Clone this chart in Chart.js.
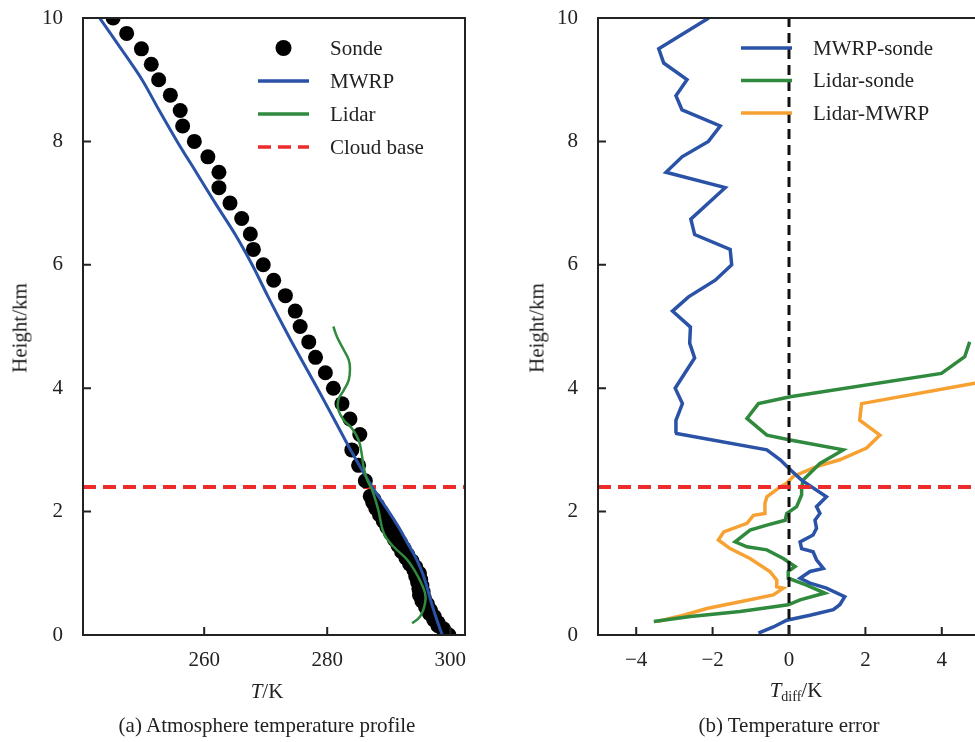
<!DOCTYPE html>
<html>
<head>
<meta charset="utf-8">
<script src="https://cdn.jsdelivr.net/npm/chart.js@4.4.1/dist/chart.umd.min.js"></script>
<style>
html, body { margin:0; padding:0; background:#fff; overflow:hidden; }
#wrap { position:relative; width:975px; height:742px; overflow:hidden; font-family:"Liberation Serif","Times New Roman",serif; color:#222; }
canvas { position:absolute; top:0; }
#cvA { left:0; }
#cvB { left:490px; }
.lbl { position:absolute; font-size:21px; white-space:nowrap; transform:translate(-50%,-50%); }
.rot { transform:translate(-50%,-50%) rotate(-90deg); }
sub { font-size:14px; vertical-align:-4px; }
</style>
</head>
<body>
<div id="wrap">
  <canvas id="cvA" width="490" height="680"></canvas>
  <canvas id="cvB" width="510" height="680"></canvas>
  <div class="lbl rot" style="left:20px;top:328px;">Height/km</div>
  <div class="lbl rot" style="left:537px;top:328px;">Height/km</div>
  <div class="lbl" style="left:267px;top:691px;"><i>T</i>/K</div>
  <div class="lbl" style="left:796px;top:691px;"><i>T</i><sub>diff</sub>/K</div>
  <div class="lbl" style="left:267px;top:725px;">(a) Atmosphere temperature profile</div>
  <div class="lbl" style="left:789px;top:725px;">(b) Temperature error</div>
</div>
<script>
/* axis ticks */
const heightTicks = [0, 2, 4, 6, 8, 10];
const tempTicks = [260, 280, 300];
const diffTicks = [-4, -2, 0, 2, 4];
const cloudBase = 2.4;

/* (a) sonde */
const sondeH = [0.00,0.05,0.10,0.15,0.20,0.25,0.30,0.35,0.40,0.45,0.50,0.55,0.60,0.65,0.70,0.75,0.80,0.85,0.90,0.95,
                1.00,1.05,1.10,1.15,1.20,1.25,1.30,1.35,1.40,1.45,1.50,1.55,1.60,1.65,1.70,1.75,1.80,1.85,1.90,1.95,
                2.00,2.05,2.10,2.15,2.20,
                2.25,2.50,2.75,3.00,3.25,3.50,3.75,4.00,4.25,4.50,4.75,5.00,5.25,5.50,5.75,6.00,6.25,6.50,6.75,
                7.00,7.25,7.50,7.75,8.00,8.25,8.50,8.75,9.00,9.25,9.50,9.75,10.00];
const sondeT = [299.8,299.0,298.9,298.0,298.0,297.3,297.4,296.6,296.8,296.0,296.3,295.4,295.8,295.0,295.6,294.9,295.4,294.7,295.2,294.4,
                295.0,294.1,294.4,293.4,293.8,292.8,293.1,292.1,292.5,291.5,291.9,290.9,291.3,290.3,290.7,289.7,290.0,289.1,289.4,288.5,
                288.8,287.9,288.2,287.4,287.6,
                287.0,286.2,285.1,284.0,285.3,283.7,282.4,281.0,279.7,278.1,277.0,275.6,274.8,273.2,271.3,269.6,268.0,267.5,266.1,
                264.2,262.4,262.4,260.6,258.4,256.5,256.1,254.5,252.6,251.4,249.8,247.4,245.2];

/* (a) MWRP */
const mwrpH = [0.00,0.25,0.50,0.75,1.00,1.25,1.50,1.75,2.00,2.25,2.50,3.00,3.50,4.00,4.50,5.00,5.50,6.00,6.50,7.00,7.50,8.00,8.50,9.00,9.50,10.00];
const mwrpT = [298.7,297.8,297.0,296.3,295.5,294.4,293.0,291.6,290.0,288.3,286.7,283.8,281.1,278.4,275.6,272.9,270.3,267.8,265.0,261.8,258.7,255.6,252.7,249.9,246.5,243.0];

/* (a) Lidar */
const lidarH = [0.19,0.30,0.51,0.68,0.94,1.22,1.43,1.65,2.03,2.35,2.51,2.73,2.94,3.16,3.35,3.48,3.65,3.81,3.97,4.13,4.32,4.46,4.62,4.83,5.00];
const lidarT = [293.8,295.1,295.9,295.9,294.8,293.0,290.8,289.2,288.3,287.3,286.5,285.9,285.6,285.1,284.0,282.7,281.8,281.8,282.7,283.5,283.7,283.5,282.7,281.6,281.0];

/* (b) MWRP - sonde */
const mwrpSondeH = [0.03,0.13,0.24,0.32,0.41,0.49,0.62,0.76,0.84,0.92,1.03,1.08,1.22,1.35,1.40,1.51,1.62,1.73,1.86,1.97,2.08,2.24,
                    2.51,2.67,2.84,3.00,3.27,3.48,3.75,4.00,4.25,4.49,4.73,4.99,5.25,5.48,5.75,6.00,6.25,6.49,6.74,7.25,7.50,
                    7.75,8.00,8.25,8.51,8.74,9.00,9.27,9.50,10.00];
const mwrpSondeD = [-0.80,-0.41,-0.06,0.55,1.16,1.33,1.46,0.98,0.55,0.29,0.55,0.90,0.72,0.63,0.33,0.29,0.63,0.72,0.68,0.81,0.72,0.98,
                    0.33,0.05,-0.23,-0.58,-2.98,-2.96,-2.79,-2.98,-2.72,-2.47,-2.60,-2.58,-3.05,-2.63,-1.93,-1.50,-1.54,-2.47,-2.57,-1.67,-3.22,
                    -2.80,-2.11,-1.80,-2.80,-2.96,-2.67,-3.28,-3.41,-2.10];

/* (b) Lidar - sonde */
const lidarSondeH = [0.22,0.30,0.38,0.49,0.57,0.68,0.81,0.92,1.03,1.11,1.24,1.38,1.43,1.51,1.70,1.78,1.86,1.97,2.08,2.27,2.38,2.51,
                     2.67,2.78,3.00,3.16,3.24,3.51,3.75,3.86,4.24,4.51,4.75];
const lidarSondeD = [-3.54,-2.58,-1.28,-0.02,0.29,0.94,0.46,-0.02,-0.02,0.16,-0.15,-0.58,-1.10,-1.41,-1.02,-0.58,-0.10,-0.06,0.20,0.33,0.33,0.37,
                     0.63,0.81,1.42,0.03,-0.58,-1.10,-0.80,0.03,3.99,4.60,4.73];

/* (b) Lidar - MWRP */
const lidarMwrpH = [0.22,0.32,0.43,0.54,0.65,0.76,0.78,0.89,1.03,1.24,1.40,1.54,1.67,1.81,1.94,1.97,2.13,2.24,2.40,2.46,2.57,2.73,
                    2.84,3.03,3.24,3.48,3.75,4.08,4.14];
const lidarMwrpD = [-3.45,-2.76,-2.15,-1.28,-0.41,-0.15,-0.32,-0.32,-0.50,-1.02,-1.54,-1.85,-1.71,-1.10,-0.93,-0.63,-0.63,-0.58,-0.23,-0.06,0.11,0.72,
                    1.33,2.03,2.38,1.85,1.90,4.86,5.20];

const pts = (xs, ys) => xs.map((x, i) => ({x: x, y: ys[i]}));
const serif = '"Liberation Serif", "Times New Roman", serif';
Chart.defaults.font.family = serif;
Chart.defaults.font.size = 21;
Chart.defaults.color = '#222';

const BLUE = '#2a52a6', GREEN = '#2f8a3d', ORANGE = '#f7a133', RED = '#ee2b2b';

/* frame + inward ticks */
const framePlugin = {
    id: 'frame',
    afterDatasetsDraw(chart) {
        const {ctx, chartArea: a, scales} = chart;
        ctx.save();
        ctx.strokeStyle = '#222';
        ctx.lineWidth = 2;
        ctx.strokeRect(a.left, a.top, a.right - a.left, a.bottom - a.top);
        ctx.beginPath();
        scales.x.ticks.forEach(t => {
            const px = scales.x.getPixelForValue(t.value);
            ctx.moveTo(px, a.bottom); ctx.lineTo(px, a.bottom - 8);
        });
        scales.y.ticks.forEach(t => {
            const py = scales.y.getPixelForValue(t.value);
            ctx.moveTo(a.left, py); ctx.lineTo(a.left + 8, py);
        });
        ctx.stroke();
        ctx.restore();
    }
};

/* legend inside plot */
const boxLegend = {
    id: 'boxLegend',
    afterDraw(chart, args, opts) {
        const {ctx, chartArea: a} = chart;
        ctx.save();
        ctx.font = '21px ' + serif;
        ctx.fillStyle = '#222';
        ctx.textBaseline = 'middle';
        opts.items.forEach((idx, i) => {
            const ds = chart.data.datasets[idx];
            const y = a.top + opts.top + i * opts.gap;
            const x0 = a.left + opts.left;
            if (ds.showLine) {
                ctx.strokeStyle = ds.borderColor;
                ctx.lineWidth = 3.5;
                ctx.setLineDash(ds.borderDash || []);
                ctx.beginPath(); ctx.moveTo(x0, y); ctx.lineTo(x0 + opts.len, y); ctx.stroke();
                ctx.setLineDash([]);
            } else {
                ctx.fillStyle = ds.backgroundColor;
                ctx.beginPath(); ctx.arc(x0 + opts.len / 2, y, 8, 0, Math.PI * 2); ctx.fill();
            }
            ctx.fillStyle = '#222';
            ctx.fillText(ds.label, x0 + opts.textOff, y + 1);
        });
        ctx.restore();
    }
};

const minusFmt = v => String(v).replace('-', '\u2212');

function axes(xMin, xMax, xTicks, yWidth) {
    return {
        x: {
            type: 'linear', min: xMin, max: xMax,
            grid: {display: false}, border: {display: false},
            ticks: {padding: 5, font: {size: 21}, callback: minusFmt},
            afterBuildTicks: s => { s.ticks = xTicks.map(v => ({value: v})); },
            afterFit: s => { s.height = 45; s.paddingLeft = 0; s.paddingRight = 0; }
        },
        y: {
            type: 'linear', min: 0, max: 10,
            grid: {display: false}, border: {display: false},
            ticks: {padding: 12, font: {size: 21}},
            afterBuildTicks: s => { s.ticks = heightTicks.map(v => ({value: v})); },
            afterFit: s => { s.width = yWidth; s.paddingTop = 0; s.paddingBottom = 0; }
        }
    };
}

/* (a) */
new Chart(document.getElementById('cvA'), {
    type: 'scatter',
    data: {
        datasets: [
            {label: 'Sonde', data: pts(sondeT, sondeH), showLine: false, pointRadius: 7.5, backgroundColor: '#000', borderWidth: 0, order: 2},
            {label: 'MWRP', data: pts(mwrpT, mwrpH), showLine: true, borderColor: BLUE, borderWidth: 3, pointRadius: 0, tension: 0.3, order: 1},
            {label: 'Lidar', data: pts(lidarT, lidarH), showLine: true, borderColor: GREEN, borderWidth: 2.5, pointRadius: 0, tension: 0.4, order: 0},
            {label: 'Cloud base', data: [{x: 240.3, y: cloudBase}, {x: 302.4, y: cloudBase}], showLine: true, borderColor: RED,
             borderWidth: 4, borderDash: [13, 7], pointRadius: 0, order: 3}
        ]
    },
    options: {
        responsive: false, animation: false, events: [],
        layout: {padding: {left: 0, top: 18, right: 25, bottom: 0}},
        plugins: {legend: {display: false}, tooltip: {enabled: false},
                  boxLegend: {items: [0, 1, 2, 3], left: 175, top: 30, gap: 33, len: 51, textOff: 72}},
        scales: axes(240.3, 302.4, tempTicks, 83)
    },
    plugins: [framePlugin, boxLegend]
});

/* (b) */
new Chart(document.getElementById('cvB'), {
    type: 'scatter',
    data: {
        datasets: [
            {label: 'MWRP-sonde', data: pts(mwrpSondeD, mwrpSondeH), showLine: true, borderColor: BLUE, borderWidth: 3.5, pointRadius: 0, order: 3},
            {label: 'Lidar-sonde', data: pts(lidarSondeD, lidarSondeH), showLine: true, borderColor: GREEN, borderWidth: 3.5, pointRadius: 0, order: 4},
            {label: 'Lidar-MWRP', data: pts(lidarMwrpD, lidarMwrpH), showLine: true, borderColor: ORANGE, borderWidth: 3.5, pointRadius: 0, order: 5},
            {label: 'zero', data: [{x: 0, y: 0}, {x: 0, y: 10}], showLine: true, borderColor: '#111', borderWidth: 3,
             borderDash: [10, 6], pointRadius: 0, order: 1},
            {label: 'Cloud base', data: [{x: -5, y: cloudBase}, {x: 5, y: cloudBase}], showLine: true, borderColor: RED,
             borderWidth: 4, borderDash: [13, 7], pointRadius: 0, order: 0}
        ]
    },
    options: {
        responsive: false, animation: false, events: [],
        layout: {padding: {left: 0, top: 18, right: 20, bottom: 0}},
        plugins: {legend: {display: false}, tooltip: {enabled: false},
                  boxLegend: {items: [0, 1, 2], left: 143, top: 30, gap: 32.5, len: 51, textOff: 72}},
        scales: axes(-5, 5, diffTicks, 108)
    },
    plugins: [framePlugin, boxLegend]
});
</script>
</body>
</html>
